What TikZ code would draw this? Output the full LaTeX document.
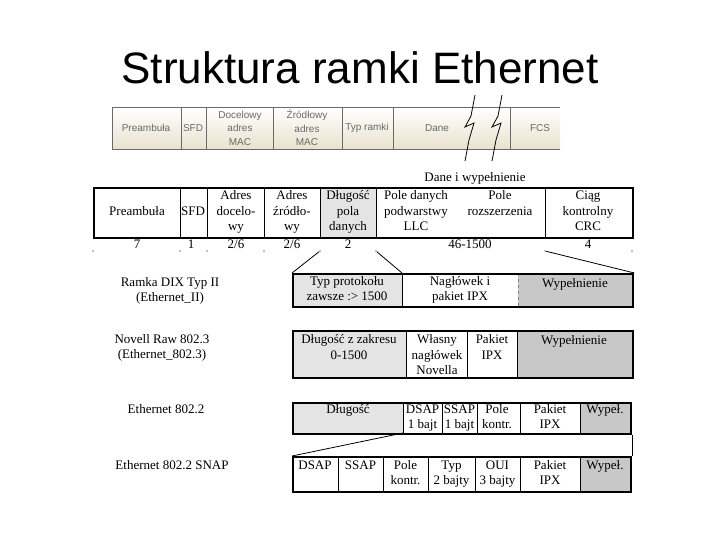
\documentclass[tikz,border=0pt]{standalone}
\usepackage{fontspec}
\setmainfont{Liberation Serif}
\newfontfamily\arial{Liberation Sans}
\usetikzlibrary{positioning}
\definecolor{jasny}{HTML}{E4E4E4}
\definecolor{ciemny}{HTML}{C8C8C8}
\definecolor{bez}{HTML}{EAE2CF}
\definecolor{szary}{HTML}{6A6A6A}

\begin{document}
\begin{tikzpicture}[x=1pt, y=-1pt,
  tekst/.style={font=\fontsize{13}{15.5}\selectfont, align=center, inner sep=0pt, anchor=base},
  opis/.style={font=\arial\fontsize{10}{13.5}\selectfont, text=szary, align=center, inner sep=0pt},
  ramka/.style={draw=black, line width=2.4pt, anchor=north west, inner sep=0pt},
  kreska/.style={draw=black, line width=0.8pt},
  kropka/.style={circle, fill=gray, inner sep=0pt, minimum size=1.8pt},
  blysk/.style={draw=black, line width=0.8pt}
]
\useasboundingbox (0,0) rectangle (720,540);

\node[font=\arial\fontsize{44}{50}\selectfont, inner sep=0pt] (tytul) at (360,68) {Struktura ramki Ethernet};

% pasek u gory
\shade[top color=white, bottom color=bez] (112,107) rectangle (560,149);
\draw[szary, line width=0.6pt] (560,107) -- (112,107) -- (112,149) -- (560,149);
\foreach \x in {181,206,273,342,393,510}
  \draw[szary, line width=0.6pt] (\x,107) -- (\x,149);
\node[opis] (p1) at (146,128) {Preambuła};
\node[opis] (p2) at (193,128) {SFD};
\node[opis] (p3) at (240,128) {Docelowy\\adres\\MAC};
\node[opis] (p4) at (307,128) {Źródłowy\\adres\\MAC};
\node[opis] (p5) at (367,128) {Typ ramki};
\node[opis] (p6) at (437,128) {Dane};
\node[opis] (p7) at (540,128) {FCS};
\draw[blysk] (475,95) -- (471,116) -- (465,127) -- (474,123) -- (469,140) -- (465,161);
\draw[blysk] (502,95) -- (498,116) -- (492,127) -- (501,123) -- (496,140) -- (492,161);

% ramka ogolna
\node[tekst] (dane) at (475,182) {Dane i wypełnienie};
\fill[jasny] (320,187) rectangle (376,237);
\foreach \x in {180,207,264,320,376,545}
  \draw[kreska] (\x,187) -- (\x,237);
\node[ramka, minimum width=539pt, minimum height=50pt] (ogolna) at (93,187) {};
\node[tekst] (t1) at (137,215) {Preambuła};
\node[tekst] (t2) at (193,215) {SFD};
\node[tekst] (t3) at (236,230.5) {Adres\\docelo-\\wy};
\node[tekst] (t4) at (292,230.5) {Adres\\źródło-\\wy};
\node[tekst] (t5) at (348,230.5) {Długość\\pola\\danych};
\node[tekst] (t6) at (416,230.5) {Pole danych\\podwarstwy\\LLC};
\node[tekst] (t7) at (500,215.25) {Pole\\rozszerzenia};
\node[tekst] (t8) at (588,230.5) {Ciąg\\kontrolny\\CRC};

\node[tekst] (b1) at (137,248) {7};
\node[tekst] (b2) at (191,248) {1};
\node[tekst] (b3) at (236,248) {2/6};
\node[tekst] (b4) at (292,248) {2/6};
\node[tekst] (b5) at (348,248) {2};
\node[tekst] (b6) at (470,248) {46-1500};
\node[tekst] (b7) at (588,248) {4};
\foreach \x/\n in {93/1,180/2,207/3,264/4,320/5,376/6,545/7,632/8}
  \node[kropka] (k\n) at (\x,251) {};

% Ethernet II
\node[tekst] (l1) at (170,301.75) {Ramka DIX Typ II\\(Ethernet\_II)};
\fill[jasny] (292,273) rectangle (402,306);
\fill[ciemny] (518,273) rectangle (632,306);
\draw[kreska] (402,273) -- (402,306);
\draw[gray, line width=0.8pt, dashed] (518,273) -- (518,306);
\node[ramka, minimum width=340pt, minimum height=33pt] (dix) at (292,273) {};
\coordinate (dixtyp) at (402,273);
\node[tekst] (d1) at (347,300.75) {Typ protokołu\\zawsze :> 1500};
\node[tekst] (d2) at (460,300.75) {Nagłówek i\\pakiet IPX};
\node[tekst] (d3) at (575,287) {Wypełnienie};
\draw[kreska] (k5) -- (dix.north west);
\draw[kreska] (k6) -- (dixtyp);
\draw[kreska] (k7) -- (dix.north east);

% Novell Raw
\node[tekst] (l2) at (162,358.75) {Novell Raw 802.3\\(Ethernet\_802.3)};
\fill[jasny] (292,330) rectangle (406,377);
\fill[ciemny] (517,330) rectangle (632,377);
\foreach \x in {406,467,517}
  \draw[kreska] (\x,330) -- (\x,377);
\node[ramka, minimum width=340pt, minimum height=47pt] (novell) at (292,330) {};
\node[tekst] (n1) at (349,359.25) {Długość z zakresu\\0-1500};
\node[tekst] (n2) at (437,374.5) {Własny\\nagłówek\\Novella};
\node[tekst] (n3) at (492,359.25) {Pakiet\\IPX};
\node[tekst] (n4) at (574,344) {Wypełnienie};

% Ethernet 802.2
\node[tekst] (l3) at (166,413) {Ethernet 802.2};
\fill[jasny] (292,402) rectangle (403,433);
\fill[ciemny] (580,402) rectangle (630,433);
\foreach \x in {403,442,477,520,580}
  \draw[kreska] (\x,402) -- (\x,433);
\node[ramka, minimum width=338pt, minimum height=31pt] (llc) at (292,402) {};
\coordinate (dsap) at (403,433);
\node[tekst] (e1) at (348,413) {Długość};
\node[tekst] (e2) at (422.5,428.75) {DSAP\\1 bajt};
\node[tekst] (e3) at (459.5,428.75) {SSAP\\1 bajt};
\node[tekst] (e4) at (497,428.75) {Pole\\kontr.};
\node[tekst] (e5) at (550,428.75) {Pakiet\\IPX};
\node[tekst] (e6) at (605,413) {Wypeł.};

% Ethernet 802.2 SNAP
\node[tekst] (l4) at (172,469) {Ethernet 802.2 SNAP};
\fill[ciemny] (580,456) rectangle (630,491);
\foreach \x in {338,383,428,475,520,580}
  \draw[kreska] (\x,456) -- (\x,491);
\node[ramka, minimum width=338pt, minimum height=35pt] (snap) at (292,456) {};
\node[tekst] (s1) at (315,469) {DSAP};
\node[tekst] (s2) at (360.5,469) {SSAP};
\node[tekst] (s3) at (405.5,484.75) {Pole\\kontr.};
\node[tekst] (s4) at (451.5,484.75) {Typ\\2 bajty};
\node[tekst] (s5) at (497.5,484.75) {OUI\\3 bajty};
\node[tekst] (s6) at (550,484.75) {Pakiet\\IPX};
\node[tekst] (s7) at (605,469) {Wypeł.};
\draw[kreska] (dsap) -- (snap.north west);
\draw[kreska] (llc.south east) -- (snap.north east);

\end{tikzpicture}
\end{document}
